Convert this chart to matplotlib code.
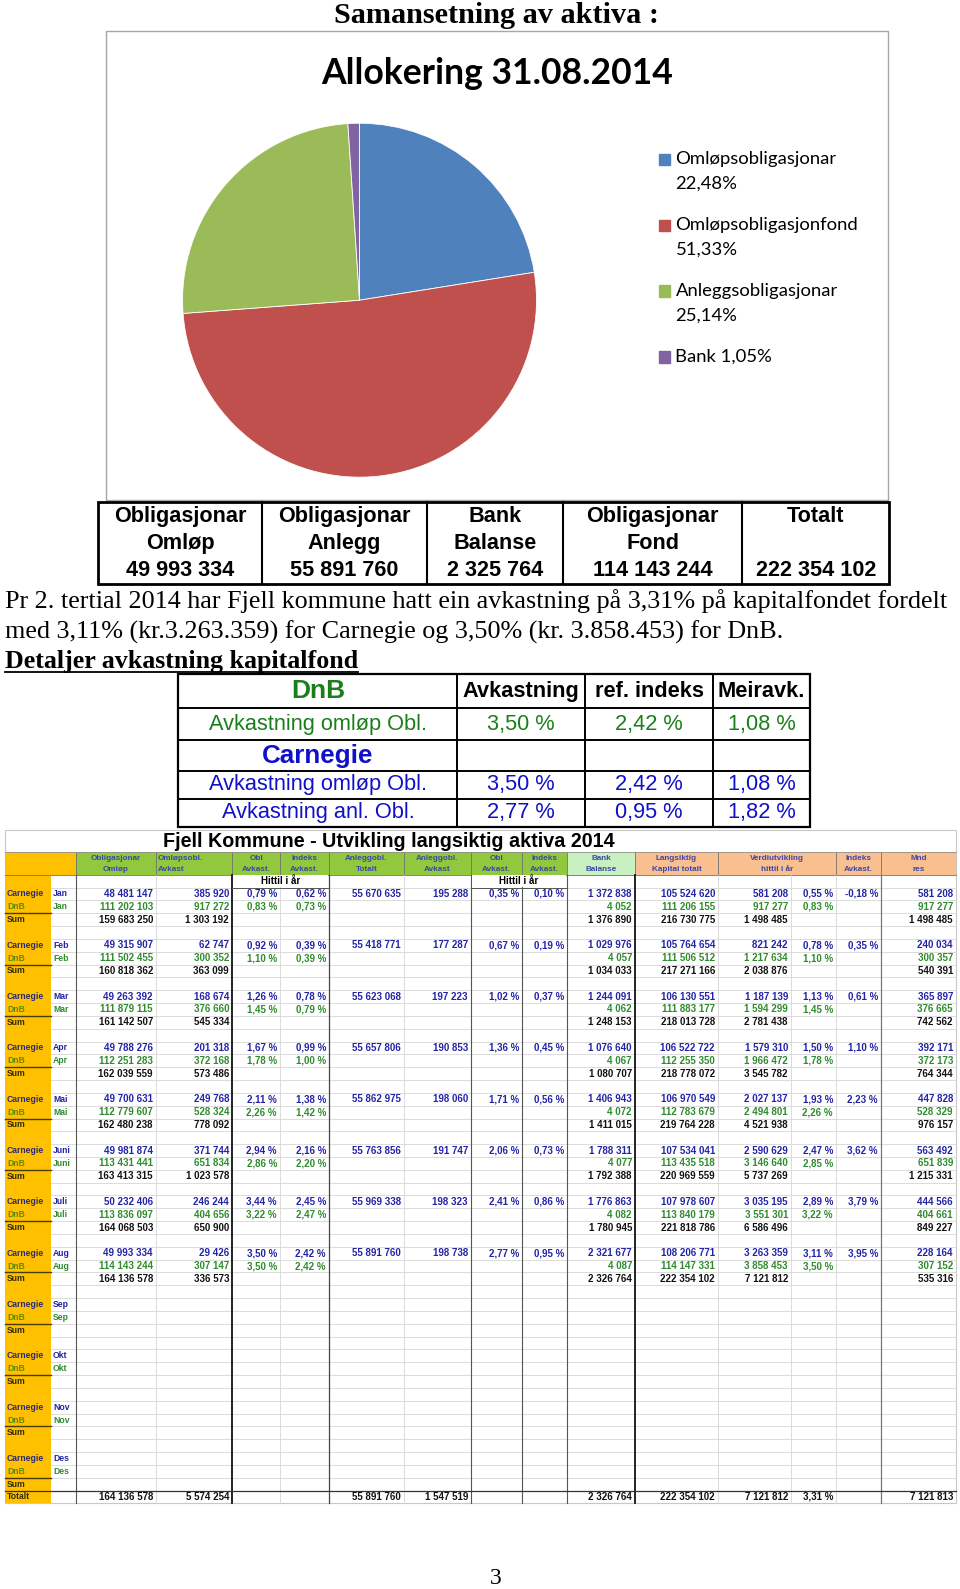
import matplotlib
matplotlib.use("Agg")
import matplotlib.pyplot as plt
from matplotlib.patches import Rectangle

# ---- pie / allocation data ----
pie_labels = ["Omløpsobligasjonar", "Omløpsobligasjonfond", "Anleggsobligasjonar", "Bank"]
pie_values = [22.48, 51.33, 25.14, 1.05]
pie_colors = ["#4F81BD", "#C0504D", "#9BBB59", "#8064A2"]

summary_heads = ["Obligasjonar\nOmløp", "Obligasjonar\nAnlegg", "Bank\nBalanse", "Obligasjonar\nFond", "Totalt\n"]
summary_values = [49993334, 55891760, 2325764, 114143244, 222354102]

# ---- detail table ----
detail_heads = ["Avkastning", "ref. indeks", "Meiravk."]
dnb_detail_labels = ["Avkastning omløp Obl."]
dnb_detail_avk = [3.50]
dnb_detail_ref = [2.42]
dnb_detail_mer = [1.08]
carn_detail_labels = ["Avkastning omløp Obl.", "Avkastning anl. Obl."]
carn_detail_avk = [3.50, 2.77]
carn_detail_ref = [2.42, 0.95]
carn_detail_mer = [1.08, 1.82]

# ---- spreadsheet data (Jan..Aug) ----
months = ["Jan", "Feb", "Mar", "Apr", "Mai", "Juni", "Juli", "Aug", "Sep", "Okt", "Nov", "Des"]

carn_oml = [48481147, 49315907, 49263392, 49788276, 49700631, 49981874, 50232406, 49993334]
carn_oml_avk = [385920, 62747, 168674, 201318, 249768, 371744, 246244, 29426]
carn_obl_pct = [0.79, 0.92, 1.26, 1.67, 2.11, 2.94, 3.44, 3.50]
carn_idx_pct = [0.62, 0.39, 0.78, 0.99, 1.38, 2.16, 2.45, 2.42]
carn_anl_tot = [55670635, 55418771, 55623068, 55657806, 55862975, 55763856, 55969338, 55891760]
carn_anl_avk = [195288, 177287, 197223, 190853, 198060, 191747, 198323, 198738]
carn_anl_pct = [0.35, 0.67, 1.02, 1.36, 1.71, 2.06, 2.41, 2.77]
carn_anl_idx = [0.10, 0.19, 0.37, 0.45, 0.56, 0.73, 0.86, 0.95]
carn_bank = [1372838, 1029976, 1244091, 1076640, 1406943, 1788311, 1776863, 2321677]
carn_lang = [105524620, 105764654, 106130551, 106522722, 106970549, 107534041, 107978607, 108206771]
carn_verdi = [581208, 821242, 1187139, 1579310, 2027137, 2590629, 3035195, 3263359]
carn_verdi_pct = [0.55, 0.78, 1.13, 1.50, 1.93, 2.47, 2.89, 3.11]
carn_idx2_pct = [-0.18, 0.35, 0.61, 1.10, 2.23, 3.62, 3.79, 3.95]
carn_mnd = [581208, 240034, 365897, 392171, 447828, 563492, 444566, 228164]

dnb_oml = [111202103, 111502455, 111879115, 112251283, 112779607, 113431441, 113836097, 114143244]
dnb_oml_avk = [917272, 300352, 376660, 372168, 528324, 651834, 404656, 307147]
dnb_obl_pct = [0.83, 1.10, 1.45, 1.78, 2.26, 2.86, 3.22, 3.50]
dnb_idx_pct = [0.73, 0.39, 0.79, 1.00, 1.42, 2.20, 2.47, 2.42]
dnb_bank = [4052, 4057, 4062, 4067, 4072, 4077, 4082, 4087]
dnb_lang = [111206155, 111506512, 111883177, 112255350, 112783679, 113435518, 113840179, 114147331]
dnb_verdi = [917277, 1217634, 1594299, 1966472, 2494801, 3146640, 3551301, 3858453]
dnb_verdi_pct = [0.83, 1.10, 1.45, 1.78, 2.26, 2.85, 3.22, 3.50]
dnb_mnd = [917277, 300357, 376665, 372173, 528329, 651839, 404661, 307152]

sum_oml = [159683250, 160818362, 161142507, 162039559, 162480238, 163413315, 164068503, 164136578]
sum_avk = [1303192, 363099, 545334, 573486, 778092, 1023578, 650900, 336573]
sum_bank = [1376890, 1034033, 1248153, 1080707, 1411015, 1792388, 1780945, 2326764]
sum_lang = [216730775, 217271166, 218013728, 218778072, 219764228, 220969559, 221818786, 222354102]
sum_verdi = [1498485, 2038876, 2781438, 3545782, 4521938, 5737269, 6586496, 7121812]
sum_mnd = [1498485, 540391, 742562, 764344, 976157, 1215331, 849227, 535316]

tot_cols = ["C", "D", "G", "H", "K", "L", "M", "N", "P"]
tot_vals = [164136578, 5574254, 55891760, 1547519, 2326764, 222354102, 7121812, 3.31, 7121813]

sheet_heads = {"C": "Obligasjonar\nOmløp", "D": "Omløpsobl.\nAvkast", "E": "Obl\nAvkast.",
               "F": "Indeks\nAvkast.", "G": "Anleggobl.\nTotalt", "H": "Anleggobl.\nAvkast",
               "I": "Obl\nAvkast.", "J": "Indeks\nAvkast.", "K": "Bank\nBalanse",
               "L": "Langsiktig\nKapital totalt", "O": "Indeks\nAvkast.", "P": "Mnd\nres"}


def fnum(v):
    return f"{v:,}".replace(",", " ")


def fpct(v):
    return f"{v:.2f}".replace(".", ",") + " %"


# page drawn in a slightly reduced coordinate frame
S = 0.986
W, H = 960 * S, 1589 * S
fig = plt.figure(figsize=(9.6, 15.89), dpi=100)
ax = fig.add_axes([0, 0, 1, 1])
ax.set_xlim(0, W)
ax.set_ylim(H, 0)
ax.axis("off")

SERIF = "Liberation Serif"
SANS = "Liberation Sans"
CAL = "Lato"

# ---- top: title, chart frame, pie ----
ax.text(490, 15, "Samansetning av aktiva :", family=SERIF, weight="bold", fontsize=21.8,
        ha="center", va="center")
ax.add_patch(Rectangle((105, 31), 771, 462, fill=False, ec="#A6A6A6", lw=1))
ax.text(490, 72, "Allokering 31.08.2014", family=CAL, weight="bold", fontsize=25.6,
        ha="center", va="center")

cx, cy, r = 354.5, 296, 174.5
ax_pie = fig.add_axes([(cx - r) / W, 1 - (cy + r) / H, 2 * r / W, 2 * r / H])
ax_pie.pie(pie_values, colors=pie_colors, startangle=90, counterclock=False,
           wedgeprops=dict(edgecolor="white", linewidth=0.6))
ax_pie.set_xlim(-1, 1)
ax_pie.set_ylim(-1, 1)

ly = 157
for lab, val, col in zip(pie_labels, pie_values, pie_colors):
    pct = f"{val:.2f}".replace(".", ",") + "%"
    ax.add_patch(Rectangle((650, ly - 5.5), 11, 11, color=col))
    if len(lab) < 10:
        ax.text(666, ly, f"{lab} {pct}", family=CAL, fontsize=13.3, va="center")
    else:
        ax.text(666, ly, lab, family=CAL, fontsize=13.3, va="center")
        ax.text(666, ly + 24, pct, family=CAL, fontsize=13.3, va="center")
    ly += 65

# ---- summary table ----
sx = [97, 258, 421, 555, 732, 877]
ax.add_patch(Rectangle((sx[0], 495), sx[-1] - sx[0], 81, fill=False, ec="black", lw=2))
for x in sx[1:-1]:
    ax.plot([x, x], [495, 576], color="black", lw=1.5)
for i, (hd, v) in enumerate(zip(summary_heads, summary_values)):
    xc = (sx[i] + sx[i + 1]) / 2
    l1, l2 = hd.split("\n")
    ax.text(xc, 509, l1, family=SANS, weight="bold", fontsize=15.6, ha="center", va="center")
    ax.text(xc, 536, l2, family=SANS, weight="bold", fontsize=15.6, ha="center", va="center")
    ax.text(xc, 563, fnum(v), family=SANS, weight="bold", fontsize=15.6, ha="center", va="center")

# ---- paragraph ----
ax.text(5, 593, "Pr 2. tertial 2014 har Fjell kommune hatt ein avkastning på 3,31% på kapitalfondet fordelt",
        family=SERIF, fontsize=18.8, va="center")
ax.text(5, 623, "med 3,11% (kr.3.263.359) for Carnegie og 3,50% (kr. 3.858.453) for DnB.",
        family=SERIF, fontsize=18.8, va="center")
ax.text(5, 652, "Detaljer avkastning kapitalfond", family=SERIF, weight="bold", fontsize=18.7,
        va="center")
ax.plot([5, 353], [663, 663], color="black", lw=1.3)

# ---- detail table ----
dx = [176, 451, 577, 703, 799]
dy = [665, 698, 730, 760, 788, 815]
ax.add_patch(Rectangle((dx[0], dy[0]), dx[-1] - dx[0], dy[-1] - dy[0], fill=False, ec="black", lw=1.6))
for x in dx[1:-1]:
    ax.plot([x, x], [dy[0], dy[-1]], color="black", lw=1.4)
for y in dy[1:-1]:
    ax.plot([dx[0], dx[-1]], [y, y], color="black", lw=1.4)
GREEN = "#1A7F1A"
BLUE = "#1010C8"
mids = [(dy[i] + dy[i + 1]) / 2 for i in range(5)]
xcs = [(dx[i] + dx[i + 1]) / 2 for i in range(4)]
ax.text(xcs[0], mids[0], "DnB", family=SANS, weight="bold", fontsize=19, color=GREEN, ha="center", va="center")
for xc, hd in zip(xcs[1:], detail_heads):
    ax.text(xc, mids[0], hd, family=SANS, weight="bold", fontsize=15.7, ha="center", va="center")
rowi = 1
for lab, a, b, c in zip(dnb_detail_labels, dnb_detail_avk, dnb_detail_ref, dnb_detail_mer):
    for xc, s in zip(xcs, [lab, fpct(a), fpct(b), fpct(c)]):
        ax.text(xc, mids[rowi], s, family=SANS, fontsize=15.7, color=GREEN, ha="center", va="center")
    rowi += 1
ax.text(xcs[0], mids[rowi], "Carnegie", family=SANS, weight="bold", fontsize=18.7, color=BLUE,
        ha="center", va="center")
rowi += 1
for lab, a, b, c in zip(carn_detail_labels, carn_detail_avk, carn_detail_ref, carn_detail_mer):
    for xc, s in zip(xcs, [lab, fpct(a), fpct(b), fpct(c)]):
        ax.text(xc, mids[rowi], s, family=SANS, fontsize=15.7, color=BLUE, ha="center", va="center")
    rowi += 1

# ---- spreadsheet ----
edges = [4.9, 50.3, 74.9, 153.8, 228.8, 276.1, 324.4, 398.3, 464.4, 514.7, 559.1, 626.1,
         707.9, 779.9, 824.3, 868.7, 942.6]
letters = "ABCDEFGHIJKLMNOP"
L = {c: edges[i] for i, c in enumerate(letters)}
R = {c: edges[i + 1] for i, c in enumerate(letters)}
X0, X1 = edges[0], edges[-1]
top_sheet, head_top, head_bot = 818, 840, 862.5
rh = 12.65
nrows = 49
bottom = head_bot + nrows * rh

ax.add_patch(Rectangle((X0, top_sheet), X1 - X0, bottom - top_sheet, fill=False, ec="#C8C8C8", lw=0.8))
ax.text(383, 830, "Fjell Kommune - Utvikling langsiktig aktiva 2014", family=SANS, weight="bold",
        fontsize=14.2, ha="center", va="center")

# header band colours
ax.add_patch(Rectangle((X0, head_top), L["C"] - X0, head_bot - head_top, color="#FFC000", lw=0))
ax.add_patch(Rectangle((L["C"], head_top), L["K"] - L["C"], head_bot - head_top, color="#92C83E", lw=0))
ax.add_patch(Rectangle((L["K"], head_top), R["K"] - L["K"], head_bot - head_top, color="#C8F0C0", lw=0))
ax.add_patch(Rectangle((L["L"], head_top), X1 - L["L"], head_bot - head_top, color="#F9BF8F", lw=0))
ax.add_patch(Rectangle((X0, head_bot), L["B"] - X0, bottom - head_bot, color="#FFC000", lw=0))

HCOL = "#3E47A8"
HFS = 5.9
for c, txt in sheet_heads.items():
    l1, l2 = txt.split("\n")
    if c == "D":
        x, ha = L[c] + 2, "left"
    else:
        x, ha = (L[c] + R[c]) / 2, "center"
    ax.text(x, 846, l1, family=SANS, weight="bold", fontsize=HFS, color=HCOL, ha=ha, va="center")
    ax.text(x, 857, l2, family=SANS, weight="bold", fontsize=HFS, color=HCOL, ha=ha, va="center")
xm = (L["M"] + R["N"]) / 2
ax.text(xm, 846, "Verdiutvikling", family=SANS, weight="bold", fontsize=HFS, color=HCOL, ha="center", va="center")
ax.text(xm, 857, "hittil i år", family=SANS, weight="bold", fontsize=HFS, color=HCOL, ha="center", va="center")

# header separators
for c in "CDEFGHIJKLMOP":
    ax.plot([L[c], L[c]], [head_top, head_bot], color="#707070", lw=0.6)
ax.plot([X0, X1], [head_top, head_top], color="#909090", lw=0.6)
ax.plot([X0, X1], [head_bot, head_bot], color="#707070", lw=0.6)

# row grid
for k in range(1, nrows):
    y = head_bot + k * rh
    ax.plot([L["B"], X1], [y, y], color="#D6D6D6", lw=0.6)
light = ["D", "F", "H", "M", "N", "O"]
dark = {"C": ("#555555", 0.8), "E": ("#111111", 1.3), "G": ("#444444", 0.9), "I": ("#555555", 0.8),
        "J": ("#555555", 0.8), "K": ("#555555", 0.8), "L": ("#111111", 1.3), "P": ("#777777", 0.9)}
for c in light:
    ax.plot([L[c], L[c]], [head_bot, bottom], color="#D6D6D6", lw=0.6)
for c, (col, lw) in dark.items():
    ax.plot([L[c], L[c]], [head_bot, bottom], color=col, lw=lw)

# "Hittil i år" boxes (white cell over the light split line)
hy = head_bot + rh / 2
for a, b in [("E", "F"), ("I", "J")]:
    ax.add_patch(Rectangle((L[a] + 0.8, head_bot + 0.4), R[b] - L[a] - 1.6, rh - 0.8,
                           color="white", lw=0, zorder=2))
    ax.plot([L[a], R[b]], [head_bot + rh, head_bot + rh], color="#555555", lw=0.7, zorder=3)
    ax.text((L[a] + R[b]) / 2, hy, "Hittil i år", family=SANS, weight="bold", fontsize=7,
            ha="center", va="center", zorder=4)

CB = "#2323A8"
DG = "#2E8B2E"
SK = "#111111"


def put(c, row, s, color):
    y = head_bot + row * rh + rh / 2
    ax.text(R[c] - 3, y, s, family=SANS, weight="bold", fontsize=7, color=color, ha="right", va="center")


for m, mon in enumerate(months):
    r0 = 1 + 4 * m
    for off, lab, lc, mc in [(0, "Carnegie", "#2B2B70", CB), (1, "DnB", "#5E8C00", DG), (2, "Sum", "#2F2A10", None)]:
        y = head_bot + (r0 + off) * rh + rh / 2
        ax.text(X0 + 2, y, lab, family=SANS, weight="bold", fontsize=6.2, color=lc, va="center")
        if mc:
            ax.text(L["B"] + 2, y, mon, family=SANS, weight="bold", fontsize=6.2, color=mc, va="center")
    yl = head_bot + (r0 + 2) * rh
    ax.plot([X0, L["B"]], [yl, yl], color="#4A3C00", lw=1)
    if m >= len(carn_oml):
        continue
    carn_row = {"C": fnum(carn_oml[m]), "D": fnum(carn_oml_avk[m]), "E": fpct(carn_obl_pct[m]),
                "F": fpct(carn_idx_pct[m]), "G": fnum(carn_anl_tot[m]), "H": fnum(carn_anl_avk[m]),
                "I": fpct(carn_anl_pct[m]), "J": fpct(carn_anl_idx[m]), "K": fnum(carn_bank[m]),
                "L": fnum(carn_lang[m]), "M": fnum(carn_verdi[m]), "N": fpct(carn_verdi_pct[m]),
                "O": fpct(carn_idx2_pct[m]), "P": fnum(carn_mnd[m])}
    dnb_row = {"C": fnum(dnb_oml[m]), "D": fnum(dnb_oml_avk[m]), "E": fpct(dnb_obl_pct[m]),
               "F": fpct(dnb_idx_pct[m]), "K": fnum(dnb_bank[m]), "L": fnum(dnb_lang[m]),
               "M": fnum(dnb_verdi[m]), "N": fpct(dnb_verdi_pct[m]), "P": fnum(dnb_mnd[m])}
    sum_row = {"C": fnum(sum_oml[m]), "D": fnum(sum_avk[m]), "K": fnum(sum_bank[m]),
               "L": fnum(sum_lang[m]), "M": fnum(sum_verdi[m]), "P": fnum(sum_mnd[m])}
    for c, s in carn_row.items():
        put(c, r0, s, CB)
    for c, s in dnb_row.items():
        put(c, r0 + 1, s, DG)
    for c, s in sum_row.items():
        put(c, r0 + 2, s, SK)

# Totalt row
rt = nrows - 1
yt = head_bot + rt * rh
ax.plot([X0, X1], [yt, yt], color="#333333", lw=0.9)
ax.text(X0 + 2, yt + rh / 2, "Totalt", family=SANS, weight="bold", fontsize=6.2, color="#2F2A10", va="center")
for c, v in zip(tot_cols, tot_vals):
    put(c, rt, fpct(v) if isinstance(v, float) else fnum(v), SK)

# page number
ax.text(489, 1556, "3", family=SERIF, fontsize=17, ha="center", va="center")

fig.savefig("out.png", dpi=100)
